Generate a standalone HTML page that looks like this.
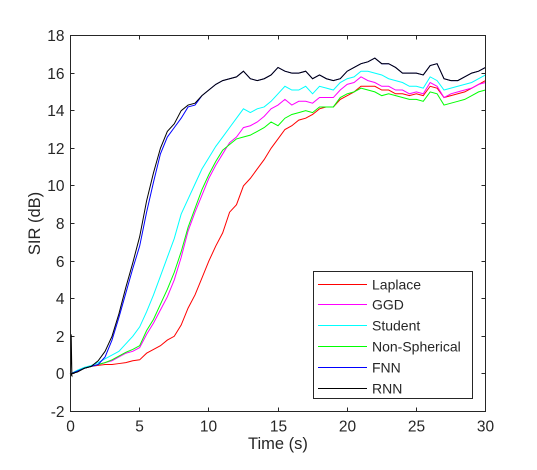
<!DOCTYPE html>
<html><head><meta charset="utf-8"><style>
body{margin:0;background:#fff;}
svg text{font-family:"Liberation Sans",Arial,sans-serif;fill:#262626;}
</style></head><body>
<svg id="chart" width="537" height="465"></svg>
<script>
const times=[];for(let i=0;i<=60;i++)times.push(i*0.5);
const xTicks=[0,5,10,15,20,25,30];
const yTicks=[-2,0,2,4,6,8,10,12,14,16,18];
const seriesNames=["Laplace","GGD","Student","Non-Spherical","FNN","RNN"];
const seriesColors=["#ff0000","#ff00ff","#00ffff","#00ff00","#0000ff","#000000"];
const laplace=[0,0.15,0.3,0.4,0.45,0.5,0.5,0.55,0.6,0.7,0.75,1.1,1.3,1.5,1.8,2.0,2.6,3.5,4.2,5.1,6.0,6.8,7.5,8.6,9.0,10.0,10.4,10.9,11.4,12.0,12.5,13.0,13.2,13.5,13.6,13.8,14.1,14.2,14.2,14.6,14.8,15.0,15.3,15.3,15.3,15.1,15.1,14.9,14.9,14.8,14.9,14.8,15.3,15.2,14.7,14.8,14.9,15.0,15.2,15.4,15.6];
const ggd=[0,0.15,0.3,0.4,0.5,0.6,0.7,0.9,1.1,1.2,1.4,2.1,2.7,3.4,4.1,5.0,6.2,7.6,8.6,9.5,10.4,11.1,11.7,12.3,12.6,13.1,13.2,13.4,13.7,14.1,14.3,14.6,14.3,14.5,14.5,14.4,14.7,14.7,14.7,15.1,15.4,15.5,15.8,15.6,15.5,15.3,15.3,15.1,15.1,14.9,15.0,14.9,15.5,15.3,14.7,14.9,15.0,15.1,15.2,15.4,15.5];
const student=[0,0.2,0.35,0.45,0.6,0.8,1.0,1.2,1.6,2.0,2.5,3.3,4.2,5.2,6.2,7.2,8.5,9.3,10.1,10.9,11.5,12.1,12.6,13.1,13.6,14.1,13.9,14.1,14.2,14.5,14.9,15.3,15.1,15.1,15.3,14.9,15.3,15.2,15.1,15.5,15.7,15.8,16.1,16.1,16.0,15.9,15.7,15.6,15.5,15.3,15.3,15.2,15.8,15.6,15.1,15.2,15.3,15.4,15.5,15.7,15.9];
const nonSpherical=[0,0.15,0.3,0.4,0.5,0.6,0.75,0.95,1.15,1.3,1.5,2.3,2.9,3.7,4.5,5.4,6.5,7.8,8.8,9.8,10.6,11.3,11.9,12.2,12.5,12.6,12.7,12.9,13.1,13.4,13.2,13.6,13.8,13.9,14.0,13.9,14.2,14.2,14.2,14.7,14.9,15.0,15.2,15.1,15.0,14.8,14.9,14.8,14.7,14.6,14.6,14.5,15.0,14.9,14.3,14.4,14.5,14.6,14.8,15.0,15.1];
const fnn=[0,0.15,0.3,0.4,0.5,0.9,1.8,3.0,4.3,5.6,6.8,8.6,10.2,11.7,12.6,13.1,13.6,14.2,14.3,14.8,15.1,15.4,15.6,15.7,15.8,16.1,15.7,15.6,15.7,15.9,16.3,16.1,16.0,16.0,16.1,15.7,15.9,15.7,15.6,15.7,16.1,16.3,16.5,16.6,16.8,16.5,16.5,16.3,16.0,16.0,16.0,15.9,16.4,16.5,15.7,15.6,15.6,15.8,16.0,16.1,16.3];
const rnn=[0,0.1,0.3,0.4,0.7,1.2,2.0,3.2,4.6,5.9,7.3,9.2,10.7,12.0,12.9,13.3,14.0,14.3,14.4,14.8,15.1,15.4,15.6,15.7,15.8,16.1,15.7,15.6,15.7,15.9,16.3,16.1,16.0,16.0,16.1,15.7,15.9,15.7,15.6,15.7,16.1,16.3,16.5,16.6,16.8,16.5,16.5,16.3,16.0,16.0,16.0,15.9,16.4,16.5,15.7,15.6,15.6,15.8,16.0,16.1,16.3];
const allSeries=[laplace,ggd,student,nonSpherical,fnn,rnn];

const L=70.5,R=485.5,T=35.5,B=411.5;
const xs=v=>L+(v-0)/(30-0)*(R-L);
const ys=v=>B-(v-(-2))/(18-(-2))*(B-T);
const NS="http://www.w3.org/2000/svg";
const svg=document.getElementById('chart');
function mk(tag,attrs,parent){const e=document.createElementNS(NS,tag);for(const k in attrs)e.setAttribute(k,attrs[k]);(parent||svg).appendChild(e);return e;}

const plotBg=mk('rect',{x:L,y:T,width:R-L,height:B-T,fill:'#fff'});



const gx=mk('g',{});


xTicks.forEach(t=>{
  const x=Math.round(xs(t)-0.5)+0.5;
  mk('line',{x1:x,x2:x,y1:B,y2:B-4,stroke:'#262626','stroke-width':1},gx);
  mk('line',{x1:x,x2:x,y1:T,y2:T+4,stroke:'#262626','stroke-width':1},gx);
  const tx=mk('text',{x:x,y:B+20,'text-anchor':'middle','font-size':15.5},gx);
  tx.textContent=t;
  
  
});
const gy=mk('g',{});


yTicks.forEach(t=>{
  const y=Math.round(ys(t)-0.5)+0.5;
  mk('line',{x1:L,x2:L+4,y1:y,y2:y,stroke:'#262626','stroke-width':1},gy);
  mk('line',{x1:R,x2:R-4,y1:y,y2:y,stroke:'#262626','stroke-width':1},gy);
  const tx=mk('text',{x:L-6,y:y+5.5,'text-anchor':'end','font-size':15.5},gy);
  tx.textContent=t;
  
  
});

allSeries.forEach((s,i)=>{
  let d=s.map((v,j)=>(j?'L':'M')+xs(times[j]).toFixed(2)+' '+ys(v).toFixed(2)).join(' ');
  if(i===5)d='M'+xs(0)+' '+ys(0)+' L'+xs(0.05)+' '+ys(2.1)+' L'+xs(0.1)+' '+ys(-0.1)+' '+d.replace('M','L');
  const p=mk('path',{d:d,fill:'none',stroke:seriesColors[i],'stroke-width':1});
  
  
});

const frame=mk('rect',{x:L,y:T,width:R-L,height:B-T,fill:'none',stroke:'#262626','stroke-width':1});



const xl=mk('text',{x:(L+R)/2,y:449,'text-anchor':'middle','font-size':16.5});
xl.textContent='Time (s)';


const yl=mk('text',{x:0,y:0,'text-anchor':'middle','font-size':16.5,transform:'translate(40,'+((T+B)/2)+') rotate(-90)'});
yl.textContent='SIR (dB)';



const lg=mk('g',{});


mk('rect',{x:313.5,y:271.5,width:159,height:127,fill:'#fff',stroke:'#262626','stroke-width':1},lg);
seriesNames.forEach((n,i)=>{
  const y=Math.round(283.5+i*20.9);
  const ln=mk('rect',{x:318,y:y,width:49,height:1,fill:seriesColors[i],'shape-rendering':'crispEdges'},lg);
  
  
  const tx=mk('text',{x:372,y:y+5.5,'font-size':14},lg);
  tx.textContent=n;
  
  
});
</script>
</body></html>
